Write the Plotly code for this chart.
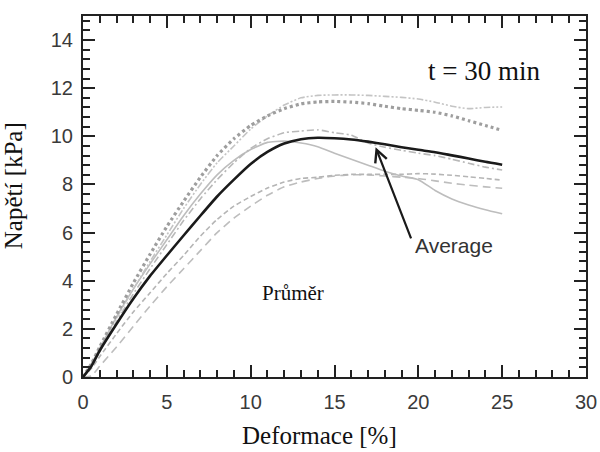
import plotly.graph_objects as go

# Strain [%] sampling positions
strain = [0, 0.5, 1, 2, 3, 4, 5, 6, 7, 8, 9, 10, 11, 12, 13, 14, 15, 16, 17, 18, 19, 20, 21, 22, 23, 24, 25]

# Individual test curves, stress [kPa]
test_dotted = [0, 0.55, 1.25, 2.6, 3.9, 5.1, 6.25, 7.3, 8.3, 9.2, 9.9, 10.45, 10.85, 11.15, 11.35, 11.43, 11.45, 11.42, 11.36, 11.25, 11.15, 11.08, 11.0, 10.85, 10.65, 10.45, 10.25]
test_dashdotdot = [0, 0.5, 1.15, 2.45, 3.65, 4.8, 5.9, 7.0, 8.0, 8.9, 9.6, 10.3, 10.85, 11.3, 11.6, 11.7, 11.72, 11.72, 11.7, 11.66, 11.62, 11.55, 11.42, 11.25, 11.15, 11.2, 11.22]
test_dashdot = [0, 0.45, 1.05, 2.3, 3.45, 4.5, 5.5, 6.5, 7.4, 8.2, 8.9, 9.5, 9.9, 10.15, 10.22, 10.27, 10.15, 10.05, 9.72, 9.55, 9.42, 9.3, 9.2, 9.05, 8.88, 8.72, 8.6]
test_solid = [0, 0.55, 1.2, 2.5, 3.65, 4.7, 5.7, 6.7, 7.6, 8.4, 9.0, 9.45, 9.75, 9.8, 9.72, 9.57, 9.3, 9.05, 8.8, 8.55, 8.35, 8.2, 7.75, 7.4, 7.15, 6.95, 6.78]
test_dash = [0, 0.35, 0.85, 1.8, 2.7, 3.5, 4.3, 5.05, 5.85, 6.55, 7.1, 7.5, 7.85, 8.1, 8.25, 8.3, 8.38, 8.42, 8.42, 8.42, 8.42, 8.45, 8.43, 8.38, 8.32, 8.25, 8.18]
test_longdash = [0, 0.05, 0.45, 1.25, 2.1, 2.95, 3.75, 4.5, 5.25, 6.0, 6.6, 7.1, 7.55, 7.9, 8.1, 8.25, 8.35, 8.4, 8.4, 8.35, 8.3, 8.25, 8.15, 8.05, 7.97, 7.9, 7.84]

# Average of all tests
average = [0, 0.45, 1.1, 2.2, 3.25, 4.2, 5.05, 5.88, 6.7, 7.5, 8.2, 8.85, 9.35, 9.7, 9.88, 9.94, 9.92, 9.87, 9.78, 9.67, 9.55, 9.44, 9.34, 9.21, 9.08, 8.94, 8.82]

# Arrow pointing at the average curve
arrow_tip = (17.45, 9.55)
arrow_tail = (19.6, 5.7)

tests = [
    (test_longdash, "#bdbdbd", 1.6, "8px,5px"),
    (test_dash, "#b5b5b5", 1.6, "5px,3px"),
    (test_solid, "#bdbdbd", 1.6, "solid"),
    (test_dashdot, "#b8b8b8", 1.6, "7px,3px,2px,3px"),
    (test_dashdotdot, "#c4c4c4", 1.6, "7px,2px,2px,2px,2px,2px"),
    (test_dotted, "#9e9e9e", 3.2, "3px,3px"),
]

fig = go.Figure()
for ys, col, w, dash in tests:
    fig.add_trace(go.Scatter(x=strain, y=ys, mode="lines",
                             line=dict(color=col, width=w, dash=dash, shape="spline", smoothing=0.5),
                             hoverinfo="skip", showlegend=False))

fig.add_trace(go.Scatter(x=strain, y=average, mode="lines",
                         line=dict(color="#1a1a1a", width=2.6, shape="spline", smoothing=0.5),
                         showlegend=False))

fig.add_annotation(x=arrow_tip[0], y=arrow_tip[1], ax=arrow_tail[0], ay=arrow_tail[1],
                   xref="x", yref="y", axref="x", ayref="y", text="",
                   showarrow=True, arrowhead=5, arrowsize=1.1, arrowwidth=2.2, arrowcolor="#1a1a1a")
fig.add_annotation(x=22.1, y=5.45, xref="x", yref="y", text="Average", showarrow=False,
                   font=dict(family="Liberation Sans, Arial", size=21, color="#333333"))
fig.add_annotation(x=23.9, y=12.72, xref="x", yref="y", text="t = 30 min", showarrow=False,
                   font=dict(family="Liberation Serif, serif", size=27, color="#111111"))
fig.add_annotation(x=12.55, y=3.5, xref="x", yref="y", text="Průměr", showarrow=False,
                   font=dict(family="Liberation Serif, serif", size=21, color="#111111"))

# Axis titles
fig.add_annotation(x=0.47, y=-0.205, xref="paper", yref="paper", text="Deformace [%]",
                   showarrow=False, yanchor="bottom",
                   font=dict(family="Liberation Serif, serif", size=25, color="#111111"))
fig.add_annotation(x=-0.138, y=0.53, xref="paper", yref="paper", text="Napětí [kPa]",
                   showarrow=False, textangle=-90, xanchor="center",
                   font=dict(family="Liberation Serif, serif", size=25, color="#111111"))

axis_common = dict(showgrid=False, zeroline=False, showline=True, linecolor="#222222", linewidth=2,
                   mirror="allticks", ticks="inside", ticklen=12, tickwidth=2, tickcolor="#222222",
                   automargin=False,
                   tickfont=dict(family="Liberation Sans, Arial", size=20, color="#3a3a3a"))

fig.update_xaxes(range=[0, 30], dtick=5, tick0=0,
                 minor=dict(dtick=1, ticks="inside", ticklen=7, tickwidth=2, tickcolor="#222222"),
                 ticklabelstandoff=6, **axis_common)
fig.update_yaxes(range=[0, 15], dtick=2, tick0=0,
                 minor=dict(dtick=0.4, ticks="inside", ticklen=7, tickwidth=2, tickcolor="#222222"),
                 ticklabelstandoff=4, **axis_common)

fig.update_layout(width=600, height=452, margin=dict(l=83, r=14, t=16, b=75, autoexpand=False),
                  plot_bgcolor="white", paper_bgcolor="white")

fig.write_html("out.html")
